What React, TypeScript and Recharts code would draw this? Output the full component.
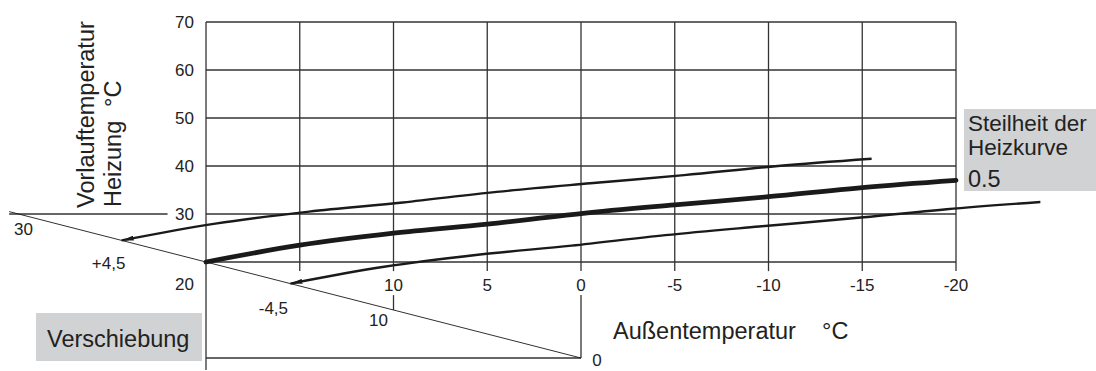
import { ComposedChart, Line, XAxis, YAxis, ReferenceLine, ReferenceDot } from 'recharts';

// Heizkurve 0.5: Außentemperatur -> Vorlauftemperatur
const outdoor = [20, 15, 10, 5, 0, -5, -10, -15, -20];
const flow = [20, 23.5, 26.0, 27.9, 30.1, 31.9, 33.6, 35.5, 37.0];
// parallel shift of the curve along the diagonal (Verschiebung)
const shifts = [4.5, 0, -4.5];
const yTicks = [70, 60, 50, 40, 30, 20];
const xTicks = [10, 5, 0, -5, -10, -15, -20];
const gridX = [15, 10, 5, 0, -5, -10, -15, -20];
const diagLabels = ['30', '+4,5', '-4,5', '10', '0'];
const diagValues = [30, 24.5, 15.5, 10, 0];

const W = 1096;
const H = 371;
const FONT = '"Liberation Sans", Arial, sans-serif';
const INK = '#1a1a1a';
const GRID = '#333';

// label offsets (px) relative to the point on the diagonal
const diagOffsets = [
  [5, 21],
  [-13, 29],
  [-17, 30],
  [-15, 16],
  [16, 8],
];

const noShape = () => <g />;

const txt = (text: string, dx: number, dy: number, anchor = 'middle', size = 17) =>
  (p: any) => (
    <text
      x={p.viewBox.x + dx}
      y={p.viewBox.y + dy}
      textAnchor={anchor}
      fontSize={size}
      fontFamily={FONT}
      fill="#222"
    >
      {text}
    </text>
  );

export default function App() {
  const curves = shifts.map((s) => outdoor.map((x, i) => ({ x: x + s, y: flow[i] + s })));

  return (
    <div style={{ position: 'absolute', left: 0, top: 0, width: W, height: H, background: '#fff' }}>
      <ComposedChart width={W} height={H} margin={{ top: 0, right: 0, bottom: 0, left: 0 }}>
        <defs>
          <marker
            id="arrow"
            viewBox="0 0 12 5"
            refX="12"
            refY="2.5"
            markerWidth="12"
            markerHeight="5"
            markerUnits="userSpaceOnUse"
            orient="auto-start-reverse"
          >
            <path d="M0,0 L12,2.5 L0,5 z" fill={INK} />
          </marker>
        </defs>
        <XAxis type="number" dataKey="x" hide reversed domain={[-27.467, 30.987]} allowDataOverflow />
        <YAxis type="number" dataKey="y" hide domain={[-2.708, 74.583]} allowDataOverflow />

        {/* grid */}
        {yTicks.map((v) => (
          <ReferenceLine key={`h${v}`} segment={[{ x: 20, y: v }, { x: -20, y: v }]} stroke={GRID} strokeWidth={1.3} />
        ))}
        <ReferenceLine segment={[{ x: 30.5, y: 30 }, { x: 22.05, y: 30 }]} stroke={GRID} strokeWidth={1.3} ifOverflow="visible" />
        {gridX.map((v) => (
          <ReferenceLine key={`v${v}`} segment={[{ x: v, y: 70 }, { x: v, y: 18.1 }]} stroke={GRID} strokeWidth={1.3} />
        ))}
        <ReferenceLine segment={[{ x: 20, y: 70 }, { x: 20, y: -2.5 }]} stroke={GRID} strokeWidth={1.3} ifOverflow="visible" />
        <ReferenceLine segment={[{ x: 0, y: 0 }, { x: 0, y: 13.1 }]} stroke={GRID} strokeWidth={1.3} />
        <ReferenceLine segment={[{ x: 10, y: 10 }, { x: 10, y: 13.1 }]} stroke={GRID} strokeWidth={1.3} />
        <ReferenceLine segment={[{ x: 20, y: 0 }, { x: 0, y: 0 }]} stroke={GRID} strokeWidth={1.3} />
        <ReferenceLine segment={[{ x: 30.5, y: 30.5 }, { x: 0, y: 0 }]} stroke={INK} strokeWidth={0.9} ifOverflow="visible" />

        {/* heating curves */}
        {curves.map((d, i) => (
          <Line
            key={i}
            data={d}
            dataKey="y"
            type="monotone"
            dot={false}
            activeDot={false}
            isAnimationActive={false}
            stroke={INK}
            strokeWidth={shifts[i] === 0 ? 4.8 : 2.4}
            strokeLinecap={shifts[i] === 0 ? 'round' : 'butt'}
            markerStart={shifts[i] === 0 ? undefined : 'url(#arrow)'}
          />
        ))}

        {/* tick labels */}
        {yTicks.map((v) => (
          <ReferenceDot key={`yl${v}`} x={20} y={v} r={0} shape={noShape}
            label={txt(String(v), -12, v === 20 ? 28 : 6, 'end')} />
        ))}
        {xTicks.map((v) => (
          <ReferenceDot key={`xl${v}`} x={v} y={20} r={0} shape={noShape}
            label={txt(String(v), 0, 29)} />
        ))}
        {diagLabels.map((t, i) => (
          <ReferenceDot key={`dl${i}`} x={diagValues[i]} y={diagValues[i]} r={0} shape={noShape}
            ifOverflow="visible" label={txt(t, diagOffsets[i][0], diagOffsets[i][1])} />
        ))}
      </ComposedChart>

      <svg width={W} height={H} style={{ position: 'absolute', left: 0, top: 0, pointerEvents: 'none' }}>
        <g fontFamily={FONT} fontSize={23.5} fill="#222">
          <text transform="translate(94,208) rotate(-90)">Vorlauftemperatur</text>
          <text transform="translate(121,207) rotate(-90)">Heizung</text>
          <text transform="translate(121,107) rotate(-90)">°C</text>
          <text x={613} y={339}>Außentemperatur</text>
          <text x={822} y={339}>°C</text>

          <rect x={36} y={313} width={166} height={48} fill="#d1d2d4" />
          <text x={47} y={347}>Verschiebung</text>

          <rect x={964} y={109} width={132} height={82} fill="#d1d2d4" />
          <text x={968} y={131} fontSize={22.5}>Steilheit der</text>
          <text x={968} y={155} fontSize={22.5}>Heizkurve</text>
          <text x={968} y={187}>0.5</text>
        </g>
      </svg>
    </div>
  );
}
